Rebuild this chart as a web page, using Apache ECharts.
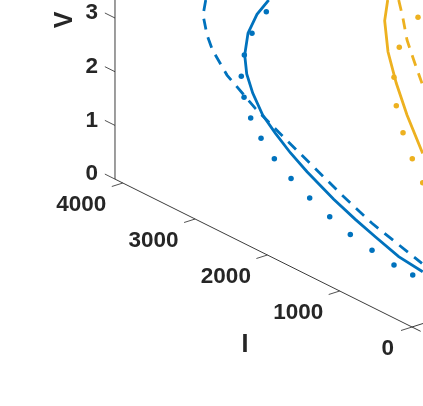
<!DOCTYPE html>
<html>
<head>
<meta charset="utf-8">
<style>
html, body { margin: 0; padding: 0; background: #fff; }
#chart { width: 423px; height: 406px; }
</style>
<script src="https://cdn.jsdelivr.net/npm/echarts@6/dist/echarts.min.js"></script>
</head>
<body>
<div id="chart"></div>
<script>
const iTicks = [0, 1000, 2000, 3000, 4000]
const vTicks = [0, 1, 2, 3]

// [I, V], flattened onto the front wall of the box
const blueSolid = [[1982, 4.76], [2144, 4.385], [2268, 3.953], [2314, 3.514], [2286, 3.179], [2203, 2.879], [2065, 2.562], [1891, 2.344], [1683, 2.117], [1452, 1.918], [1083, 1.652], [784, 1.479], [508, 1.341], [184, 1.186], [-148, 1.129]]
const blueDashed = [[2853, 4.175], [2890, 3.871], [2835, 3.536], [2759, 3.307], [2559, 2.976], [2167, 2.618], [1774, 2.343], [968, 1.808], [553, 1.561], [-138, 1.276]]
const blueDots = [[2015, 4.52], [2213, 3.985], [2319, 3.51], [2361, 3.086], [2323, 2.719], [2231, 2.395], [2088, 2.114], [1904, 1.857], [1673, 1.646], [1415, 1.453], [1138, 1.291], [853, 1.153], [553, 1.058], [249, 0.987], [-10, 0.974]]
const yellowSolid = [[336, 5.864], [378, 5.451], [332, 4.903], [217, 4.393], [69, 3.901], [-148, 3.333]]
const yellowDashed = [[184, 5.966], [129, 5.691], [69, 5.298], [-24, 4.987], [-138, 4.631]]
const yellowDots = [[-83, 5.823], [176, 5.091], [249, 4.482], [217, 3.976], [124, 3.534], [-4, 3.136], [-148, 2.786]]

const BLUE = '#0072BD'
const YELLOW = '#EDB120'
const INK = '#262626'
const FONT = '"Liberation Sans", Arial, sans-serif'
const I_WALL = 4108

// oblique view of the 3D box, depth t runs to the upper right
function project(i, v, t = 0) {
    return [412 - 0.0723 * i + 11 * t, 327 - 0.036 * i - 53.7 * v - 3.5 * t]
}
const onWall = points => points.map(p => project(p[0], p[1]))

function curve(data, color, dashed) {
    return {
        type: 'line',
        data: onWall(data),
        showSymbol: false,
        silent: true,
        lineStyle: { color, width: 2.8, type: dashed ? [11, 8] : 'solid', cap: 'butt', join: 'miter' },
    }
}
function dots(data, color) {
    return { type: 'scatter', data: onWall(data), symbolSize: 5.5, silent: true, itemStyle: { color, opacity: 1 } }
}
function rule(a, b, width = 0.9) {
    return {
        type: 'line',
        data: [a, b],
        showSymbol: false,
        silent: true,
        lineStyle: { color: INK, width },
    }
}
function text(pos, str, fontSize, offset, extra = {}) {
    return {
        type: 'scatter',
        data: [pos],
        symbolSize: 0,
        silent: true,
        itemStyle: { opacity: 1 },
        label: {
            show: true,
            position: 'inside',
            formatter: str,
            offset,
            fontFamily: FONT,
            fontWeight: 'bold',
            fontSize,
            color: INK,
            opacity: 1,
            ...extra,
        },
    }
}

const series = [
    rule(project(I_WALL, 0), project(I_WALL, 3.4)),
    rule(project(I_WALL, 0), project(-120, 0)),
    rule(project(0, 0), project(0, 0, 1.05)),
    ...iTicks.map(i => rule(project(i, 0), project(i, 0, -1), 0.8)),
    ...vTicks.map(v => rule(project(I_WALL, v), project(I_WALL + 140, v), 0.8)),
    curve(blueSolid, BLUE, false),
    curve(blueDashed, BLUE, true),
    dots(blueDots, BLUE),
    curve(yellowSolid, YELLOW, false),
    curve(yellowDashed, YELLOW, true),
    dots(yellowDots, YELLOW),
    ...iTicks.map(i => text(project(i, 0), String(i), 22.5, [i ? -16.5 : -18, 21.5], { align: 'right' })),
    ...vTicks.map(v => text(project(I_WALL, v), String(v), 22.5, [-17, -5], { align: 'right' })),
    text(project(2310, 0), 'I', 25, [0, 101.5]),
    // offset of a rotated label turns with it
    text(project(I_WALL, 3), 'V', 25, [-2, -49.5], { rotate: 90 }),
]

const chart = echarts.init(document.getElementById('chart'), null, { width: 423, height: 406 })
chart.setOption({
    animation: false,
    grid: { left: 0, right: 0, top: 0, bottom: 0 },
    xAxis: { type: 'value', min: 0, max: 423, show: false },
    yAxis: { type: 'value', min: 0, max: 406, inverse: true, show: false },
    series,
})
</script>
</body>
</html>
